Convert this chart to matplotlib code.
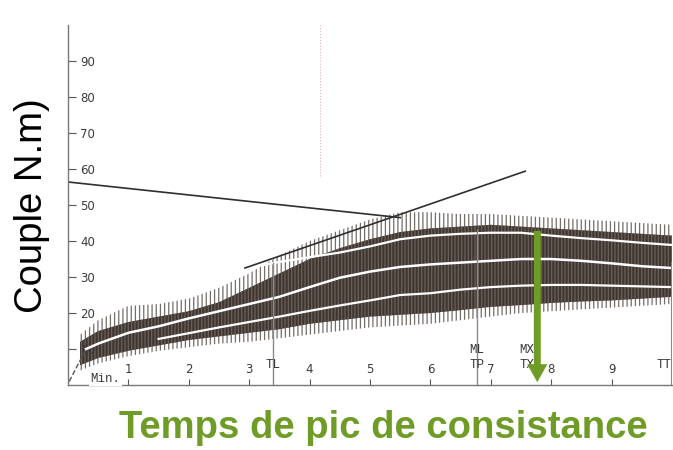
import numpy as np
import matplotlib.pyplot as plt

# torque trace (time in min, couple in N.m)
t = [0.2, 0.5, 1.0, 1.5, 2.0, 2.5, 3.0, 3.5, 4.0, 4.5, 5.0,
     5.5, 6.0, 6.5, 7.0, 7.5, 8.0, 8.5, 9.0, 9.5, 10.0]
spike_top = [14, 18, 22, 22.5, 24, 27, 31, 36, 40, 43, 46,
             48, 48, 47.5, 47.5, 47, 46.5, 46, 45.5, 45, 44.5]
spike_bot = [4, 6, 8, 9.5, 10.5, 11.5, 12, 13, 14, 15, 16,
             16.5, 17, 18, 19, 20, 20.5, 21, 21.5, 22, 22.5]
band_top = [12, 15, 17.5, 19, 20.5, 23, 27, 31, 35, 38, 40.5,
            42.5, 43.5, 44, 44.5, 44, 43.5, 43, 42.5, 42, 41.5]
band_bot = [5.5, 7.5, 9.5, 11, 12.5, 13.5, 14.5, 15.5, 17, 18, 19,
            19.5, 20, 20.8, 21.7, 22.2, 22.8, 23.2, 23.5, 24, 24.5]

t_mid = [0.3, 0.5, 1.0, 1.5, 2.0, 2.5, 3.0, 3.5, 4.0, 4.5, 5.0,
         5.5, 6.0, 6.5, 7.0, 7.5, 8.0, 8.5, 9.0, 9.5, 10.0]
mid = [10, 11.5, 14.5, 16.3, 18.5, 20.5, 22.5, 24.5, 27.2, 29.8, 31.5,
       32.8, 33.5, 34, 34.5, 35, 35, 34.5, 33.8, 33, 32.5]

t_up = [3.0, 3.5, 4.0, 4.5, 5.0, 5.5, 6.0, 6.5, 7.0, 7.5, 8.0, 8.5, 9.0, 9.5, 10.0]
up = [32.5, 34.2, 35.5, 36.8, 38.5, 40.5, 41.5, 42, 42.3, 42.3, 41.5, 40.8, 40.2, 39.5, 38.9]

t_low = [1.5, 2.0, 2.5, 3.0, 3.5, 4.0, 4.5, 5.0, 5.5, 6.0, 6.5, 7.0, 7.5, 8.0, 8.5, 9.0, 9.5, 10.0]
low = [12.8, 14.4, 16, 17.5, 19, 20.6, 22.1, 23.5, 25, 25.5, 26.5, 27.2, 27.6, 27.8, 27.8, 27.6, 27.4, 27.2]

# tangent lines
desc_x, desc_y = [0, 5.5], [56.4, 46.5]
rise_x, rise_y = [2.93, 7.57], [32.5, 59.4]

# event markers: (time, top of line, labels from top to bottom)
markers = [(3.4, 34, ["TL"]), (6.77, 43, ["ML", "TP"]), (7.6, 0, ["MX", "TX"])]
peak_time, peak_couple = 7.77, 43.6

green = "#6e9c26"
ink = "#3a3a3a"

fig = plt.figure(figsize=(6.73, 4.5), dpi=100)
ax = fig.add_axes([0.101, 0.1444, 0.8975, 0.8])
ax.set_xlim(0, 10)
ax.set_ylim(0, 100)

plt.rcParams['hatch.linewidth'] = 0.9
ax.fill_between(t, spike_bot, spike_top, facecolor="none", edgecolor="#746d68",
                hatch="||||", linewidth=0)
ax.fill_between(t, band_bot, band_top, facecolor="#3f3631", edgecolor="#6b615a",
                hatch="|||||", linewidth=0)

ax.plot(t_mid, mid, color="white", lw=1.8)
ax.plot(t_up, up, color="white", lw=1.6)
ax.plot(t_low, low, color="white", lw=1.6)

ax.plot(desc_x, desc_y, color="#2f2f2f", lw=1.2)
ax.plot(rise_x, rise_y, color="#2f2f2f", lw=1.2)
ax.plot([0.02, 0.3], [1, 10], color="#555555", lw=1, ls="--")
ax.plot([4.17, 4.17], [58, 100], color="#d8b8b8", lw=0.8, ls=":")
ax.plot([10, 10], [0, 34], color="#8a8a8a", lw=1.5)

for x, top, labels in markers:
    if top:
        ax.plot([x, x], [0, top], color="#8a8a8a", lw=1)
    ys = [5.5] if len(labels) == 1 else [9.8, 5.5]
    for lab, y in zip(labels, ys):
        ax.text(x, y, lab, ha="center", va="center", fontsize=9,
                family="Liberation Mono", color=ink)
ax.text(10, 5.5, "TT", ha="right", va="center", fontsize=9,
        family="Liberation Mono", color=ink)

ax.text(0.62, 1.8, "Min.", ha="center", va="center", fontsize=9, family="Liberation Mono",
        color=ink, bbox=dict(facecolor="white", edgecolor="none", pad=1))

ax.annotate("", xy=(peak_time, 0), xytext=(peak_time, peak_couple),
            arrowprops=dict(arrowstyle="simple,head_width=1.45,head_length=1.3,tail_width=0.5",
                            mutation_scale=10, color=green, lw=0))

for s in ["top", "right"]:
    ax.spines[s].set_visible(False)
ax.spines["left"].set_color("#777777")
ax.spines["bottom"].set_color("#777777")
ax.spines["left"].set_linewidth(1)
ax.spines["bottom"].set_linewidth(1)

ax.set_yticks(range(10, 100, 10))
ax.set_xticks(range(1, 10))
ax.tick_params(axis="y", direction="in", length=6, pad=-9, labelsize=8.5, labelcolor=ink, color="#555555")
ax.tick_params(axis="x", direction="in", length=4, pad=-16, labelsize=8.5, labelcolor=ink, color="#555555")
for lab in ax.get_yticklabels():
    lab.set_horizontalalignment("left")

fig.text(0.047, 0.542, "Couple N.m)", rotation=90, ha="center", va="center",
         fontsize=27.5, family="Liberation Sans", color="black")
fig.text(0.569, 0.049, "Temps de pic de consistance", ha="center", va="center",
         fontsize=27.5, fontweight="bold", family="Liberation Sans", color=green)

fig.savefig("out.png", dpi=100)
